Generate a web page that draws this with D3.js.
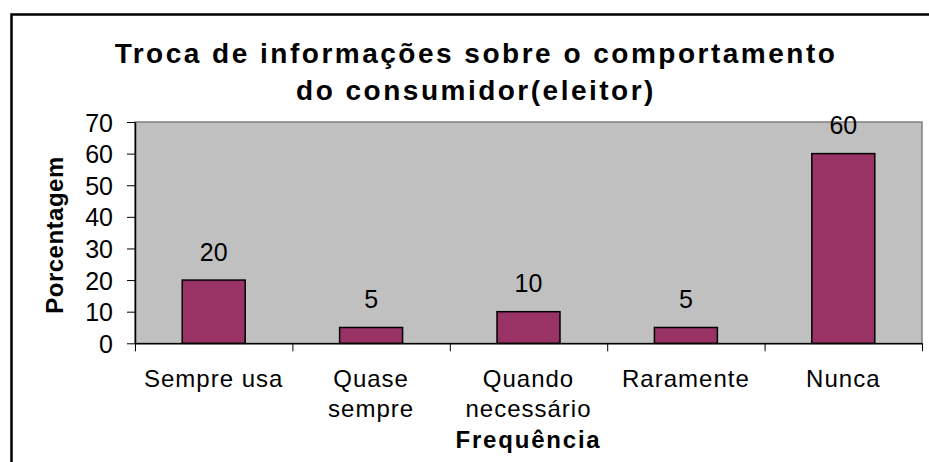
<!DOCTYPE html>
<html>

<head>
  <meta charset="utf-8">
  <title>Troca de informações</title>
  <style>
    body { margin: 0; background: #fff; }
    text { font-family: Arial, 'Liberation Sans', sans-serif; fill: #000; }
  </style>
</head>

<body>

  <script src="https://cdn.jsdelivr.net/npm/d3@7"></script>
  <script>
    const width = 929;
    const height = 462;

    // data
    const categories = ['Sempre usa', 'Quase sempre', 'Quando necessário', 'Raramente', 'Nunca'];
    const categoryLines = [['Sempre usa'], ['Quase', 'sempre'], ['Quando', 'necessário'], ['Raramente'], ['Nunca']];
    const values = [20, 5, 10, 5, 60];
    const yTicks = [0, 10, 20, 30, 40, 50, 60, 70];
    const titleLines = ['Troca de informações sobre o comportamento', 'do consumidor(eleitor)'];

    const plot = { left: 135, right: 922, top: 122, bottom: 343.3 };

    const svg = d3.select('body')
      .append('svg')
      .attr('width', width)
      .attr('height', height)
      .style('display', 'block');

    // outer chart border (runs off the right and bottom edges)
    svg.append('rect')
      .attr('x', 11.5)
      .attr('y', 14.5)
      .attr('width', 1000)
      .attr('height', 600)
      .attr('fill', 'none')
      .attr('stroke', '#000')
      .attr('stroke-width', 2.5);

    const x = d3.scaleBand()
      .domain(categories)
      .range([plot.left, plot.right])
      .paddingInner(0)
      .paddingOuter(0);

    const y = d3.scaleLinear()
      .domain([0, 70])
      .range([plot.bottom, plot.top]);

    // plot background
    svg.append('rect')
      .attr('x', plot.left)
      .attr('y', plot.top)
      .attr('width', plot.right - plot.left)
      .attr('height', plot.bottom - plot.top)
      .attr('fill', '#c0c0c0')
      .attr('stroke', '#808080')
      .attr('stroke-width', 1.5);

    // bars
    const barW = x.bandwidth() * 0.4;
    svg.append('g')
      .selectAll('rect')
      .data(values)
      .join('rect')
      .attr('x', (d, i) => x(categories[i]) + (x.bandwidth() - barW) / 2)
      .attr('y', (d) => y(d))
      .attr('width', barW)
      .attr('height', (d) => y(0) - y(d))
      .attr('fill', '#993366')
      .attr('stroke', '#000')
      .attr('stroke-width', 1.5);

    // value labels
    svg.append('g')
      .selectAll('text')
      .data(values)
      .join('text')
      .attr('x', (d, i) => x(categories[i]) + x.bandwidth() / 2)
      .attr('y', (d) => y(d) - 19.5)
      .attr('text-anchor', 'middle')
      .attr('font-size', 25)
      .text((d) => d);

    // y axis
    const yAxis = svg.append('g')
      .attr('transform', `translate(${plot.left},0)`)
      .call(d3.axisLeft(y).tickValues(yTicks).tickSize(8).tickSizeOuter(0).tickPadding(14));
    yAxis.select('.domain').attr('stroke', '#000').attr('stroke-width', 1.5);
    yAxis.selectAll('.tick line').attr('stroke', '#000');
    yAxis.selectAll('.tick text')
      .attr('font-size', 25)
      .attr('font-family', null)
      .attr('dy', '0.36em');

    // x axis: ticks at category boundaries
    const xEdge = d3.scaleLinear().domain([0, categories.length]).range([plot.left, plot.right]);
    const xAxis = svg.append('g')
      .attr('transform', `translate(0,${plot.bottom})`)
      .call(d3.axisBottom(xEdge).tickValues(d3.range(categories.length + 1)).tickSize(8).tickSizeOuter(0).tickFormat(''));
    xAxis.select('.domain').attr('stroke', '#000').attr('stroke-width', 1.5);
    xAxis.selectAll('.tick line').attr('stroke', '#000');

    // category labels
    svg.append('g')
      .selectAll('text')
      .data(categoryLines)
      .join('text')
      .attr('x', (d, i) => x(categories[i]) + x.bandwidth() / 2)
      .attr('y', 387)
      .attr('text-anchor', 'middle')
      .attr('font-size', 24)
      .attr('letter-spacing', 1)
      .selectAll('tspan')
      .data((d) => d)
      .join('tspan')
      .attr('x', function () { return this.parentNode.getAttribute('x'); })
      .attr('dy', (d, i) => (i === 0 ? 0 : 30))
      .text((d) => d);

    // title
    svg.append('text')
      .attr('text-anchor', 'middle')
      .attr('font-size', 28)
      .attr('font-weight', 'bold')
      .attr('letter-spacing', 2.5)
      .selectAll('tspan')
      .data(titleLines)
      .join('tspan')
      .attr('x', 476)
      .attr('y', (d, i) => 63 + i * 37)
      .text((d) => d);

    // axis titles
    svg.append('text')
      .attr('x', (plot.left + plot.right) / 2)
      .attr('y', 448)
      .attr('text-anchor', 'middle')
      .attr('font-size', 24)
      .attr('font-weight', 'bold')
      .attr('letter-spacing', 1.8)
      .text('Frequência');

    svg.append('text')
      .attr('transform', 'translate(63,235) rotate(-90)')
      .attr('text-anchor', 'middle')
      .attr('font-size', 24)
      .attr('font-weight', 'bold')
      .attr('letter-spacing', 0.5)
      .text('Porcentagem');
  </script>

</body>

</html>
